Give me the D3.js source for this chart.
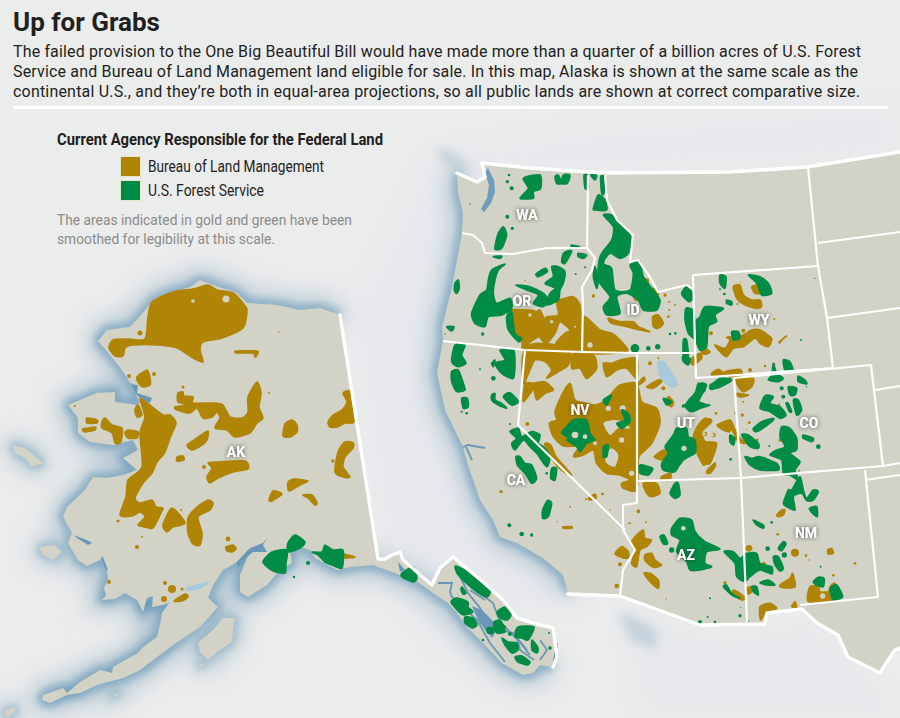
<!DOCTYPE html>
<html>
<head>
<meta charset="utf-8">
<script src="https://cdn.jsdelivr.net/npm/d3@7"></script>
<style>
  body { margin: 0; background: #ebecec; }
  svg { display: block; }
</style>
</head>
<body>
<div id="map"></div>
<script>
const title = "Up for Grabs";
const intro = [
  "The failed provision to the One Big Beautiful Bill would have made more than a quarter of a billion acres of U.S. Forest",
  "Service and Bureau of Land Management land eligible for sale. In this map, Alaska is shown at the same scale as the",
  "continental U.S., and they\u2019re both in equal-area projections, so all public lands are shown at correct comparative size."
];
const legendTitle = "Current Agency Responsible for the Federal Land";
const agencies = ["Bureau of Land Management", "U.S. Forest Service"];
const note = ["The areas indicated in gold and green have been", "smoothed for legibility at this scale."];
const stateNames = ["WA", "OR", "ID", "WY", "NV", "UT", "CO", "CA", "AZ", "NM", "AK"];
const stateSpots = [[527,215],[522,301],[633,310],[759,320],[580,410],[686,423],[809,423],[516,480],[686,555],[806,533],[236,452]];

// outlines in page pixels
const akCoast = [[340,315],[320,308],[300,310],[277,305],[247,303],[237,293],[213,285],[200,280],[190,287],[173,292],[153,300],[143,313],[130,327],[107,330],[98,341],[110,355],[122,370],[130,383],[137,385],[135,393],[140,402],[137,405],[115,402],[115,392],[97,393],[68,405],[78,418],[78,433],[90,442],[113,445],[133,440],[138,450],[123,458],[137,470],[123,475],[107,478],[93,477],[85,490],[67,507],[63,517],[72,533],[68,543],[78,560],[87,566],[100,560],[102,557],[107,570],[108,580],[104,588],[106,595],[102,600],[115,599],[125,593],[137,600],[143,612],[147,598],[153,596],[152,607],[163,605],[170,602],[162,613],[161,620],[157,637],[142,648],[138,653],[113,667],[112,673],[100,670],[80,682],[67,693],[63,688],[43,695],[42,700],[50,703],[67,695],[80,693],[97,685],[123,678],[140,670],[173,645],[200,627],[218,607],[208,598],[213,585],[223,570],[237,562],[248,550],[263,543],[267,538],[257,545],[247,558],[240,575],[240,592],[248,597],[267,585],[278,572],[292,563],[290,550],[300,547],[310,550],[315,558],[337,570],[350,567],[373,565],[400,575],[418,582],[433,593],[448,603],[457,613],[467,627],[483,643],[502,663],[523,675],[533,673],[540,665],[553,667]];
const akBorder = [[553,667],[557,657],[553,628],[540,625],[517,618],[503,600],[483,582],[453,557],[440,568],[432,585],[403,560],[400,552],[392,555],[385,559],[378,559],[340,315]];
const akIslands = [
  [[12,445],[25,448],[43,463],[32,467],[25,458],[15,453]],
  [[39,547],[55,545],[62,552],[53,560],[43,555]],
  [[198,643],[213,630],[223,618],[235,618],[233,630],[232,642],[217,652],[208,660],[200,652]],
  [[3,712],[13,707],[17,710],[7,718]],
  [[113,697],[118,692],[117,696]],[[197,667],[203,663],[204,665]]
];
const pacificCoast = [[568,592],[563,575],[543,558],[517,543],[500,537],[493,520],[480,500],[468,465],[463,447],[445,410],[437,373],[443,340],[442,327],[452,287],[457,260],[462,233],[463,213],[458,193],[457,173]];
const canadaBorder = [[457,173],[477,182],[485,177],[482,163],[530,168],[603,173],[730,172],[807,167],[900,152]];
const mexicoBorder = [[900,648],[895,650],[888,660],[880,673],[848,657],[838,635],[817,623],[802,609],[767,613],[765,624],[700,625],[620,596],[568,594]];
const stateBorders = [
  [[462,233],[473,235],[482,243],[485,253],[513,254],[547,248],[587,248]],
  [[588,175],[587,248],[595,258],[592,270],[582,287],[583,303],[582,352]],
  [[443,341],[525,350],[582,352],[637,353],[695,353]],
  [[605,175],[607,200],[617,220],[633,235],[630,262],[638,260],[650,277],[658,292],[687,285],[693,290]],
  [[693,275],[818,266],[827,318],[833,368],[696,378],[693,275]],
  [[808,167],[818,266]],[[818,243],[900,232]],[[827,318],[900,308]],
  [[734,378],[871,365],[883,466],[741,478],[734,378]],
  [[875,390],[900,386]],[[883,466],[900,463]],[[865,480],[900,475]],
  [[741,478],[747,622]],[[638,481],[741,478]],[[865,470],[878,597],[800,605]],
  [[525,350],[518,425],[625,530]],
  [[637,353],[637,503],[623,505],[623,530],[635,550],[623,570],[620,596]]
];
const waterFill = [
  [[132,385],[138,385],[137,393],[152,398],[150,403],[142,400],[135,393]],
  [[237,562],[250,548],[263,543],[268,537],[263,545],[267,552],[253,552],[243,560],[238,567]],
  [[73,535],[87,540],[92,543],[88,545],[80,540]],
  [[472,606],[482,610],[492,620],[498,628],[492,638],[485,630],[478,620]],
  [[398,562],[405,570],[400,572]]
];
const waterLines = [
  [[457,570],[468,593],[480,608],[490,627],[513,633],[527,650]],
  [[438,583],[452,583],[450,592],[452,597],[477,620],[490,643],[505,662]],
  [[480,593],[493,603],[500,622],[518,640],[530,655]],
  [[470,590],[485,600]],[[515,630],[520,650],[534,660]],[[540,640],[547,650],[540,660]],
  [[557,643],[553,667]],[[107,570],[102,557]],[[463,447],[468,445],[485,448]],[[466,447],[472,460]]
];
const puget = [[488,168],[494,180],[495,192],[491,203],[484,212],[481,209],[487,198],[489,185],[485,172]];
const lakes = [
  [[186,587],[207,582],[210,582],[200,589],[187,591]],
  [[657,362],[665,362],[678,383],[672,388],[660,378]]
];
const canada = [[345,320],[430,150],[600,125],[900,100],[900,160],[480,180],[470,240],[560,600],[440,660],[380,560]];
const mexico = [[620,600],[700,632],[770,630],[805,615],[890,690],[900,718],[640,718]];
const vancouver = [[436,148],[452,152],[470,168],[462,172],[445,165]];
const baja = [[618,612],[640,620],[658,632],[655,650],[630,640]];

// Alaska, page pixels
const blmAlaska = [
  [[152,302],[173,292],[193,289],[208,285],[217,290],[233,293],[242,302],[247,310],[243,328],[222,338],[203,342],[200,350],[203,362],[193,358],[177,348],[157,345],[133,345],[125,348],[123,356],[115,356],[109,348],[113,340],[128,339],[145,339],[148,317]],
  [140,333,2.5],
  [[236,351],[257,351],[257,355],[255,357],[253,353],[237,353]],
  [279,332,.7],
  [[137,377],[147,370],[150,378],[150,385],[143,387],[138,382]],[154,374,2],[129,376,2],
  [[140,399],[147,403],[163,415],[170,415],[176,423],[170,438],[165,452],[157,462],[152,473],[143,483],[135,498],[140,503],[152,500],[156,507],[163,508],[160,515],[153,528],[145,527],[138,525],[145,517],[140,512],[132,516],[120,515],[126,497],[128,480],[142,467],[140,433],[145,417]],
  [[135,410],[138,405],[142,415],[137,417]],
  [[87,418],[97,420],[97,423],[87,423]],[[83,429],[95,427],[95,430],[85,432]],
  [[102,422],[105,418],[112,425],[122,428],[122,437],[120,443],[115,443],[112,433],[102,428]],
  [[125,433],[128,430],[138,432],[137,438],[128,438]],[75,406,1],
  [[178,393],[183,392],[184,396],[193,397],[193,403],[213,403],[223,405],[230,417],[242,418],[248,412],[248,397],[257,382],[261,393],[259,407],[263,418],[257,423],[250,433],[235,437],[227,430],[215,428],[220,418],[217,412],[212,417],[203,418],[197,408],[190,413],[177,410],[175,407],[188,405],[178,402]],
  [183,387,1.5],[269,393,1],
  [[283,436],[285,424],[292,420],[297,425],[297,432],[290,437]],
  [[187,445],[197,438],[208,431],[207,440],[202,445],[192,450]],
  [[177,457],[183,456],[184,460],[177,461]],
  [[208,463],[217,462],[245,461],[248,469],[233,472],[218,478],[210,483],[207,477],[212,468]],[204,467,2],
  [[328,422],[333,415],[342,410],[347,402],[343,393],[350,391],[353,403],[354,422],[345,423],[337,427],[330,427]],
  [[338,452],[345,442],[353,443],[353,448],[345,457],[343,467],[350,477],[343,477],[335,472]],[333,461,1.7],
  [[288,482],[295,479],[308,481],[300,485],[289,491]],
  [[269,500],[273,491],[282,494],[272,501]],
  [[303,495],[312,495],[317,503],[315,505],[308,498]],
  [[163,525],[172,508],[185,523],[173,527],[167,532]],
  [[188,518],[197,507],[208,500],[213,503],[210,510],[198,517],[202,533],[200,545],[193,544],[188,533]],
  [181,510,1],[118,521,1.5],[142,537,1],[137,547,2],[228,539,2.4],
  [[226,547],[233,545],[236,549],[232,552],[227,551]],
  [165,583,2],[172,589,4],[182,589,1.5],[164,599,3],
  [[174,601],[185,594],[188,597],[182,601]],[109,582,2],
  [[343,554],[355,557],[345,558]]
];
const blmAlaskaHoles = [[193,301,1.8],[226,299,3.5]];
const fsAlaska = [
  [[263,562],[272,552],[287,550],[286,563],[285,573],[273,571]],
  [[288,543],[295,535],[305,542],[300,548],[288,552]],
  [[312,552],[322,552],[325,545],[333,550],[343,550],[342,568],[332,565],[325,562],[318,555]],
  [308,563,2],[294,577,1.2],
  [[456,566],[477,577],[490,590],[487,597],[477,592],[465,582],[457,573]],
  [[402,573],[413,567],[417,578],[413,582],[402,577]],
  [[462,587],[466,593],[463,594],[461,590]],
  [[451,602],[457,598],[468,602],[468,607],[473,612],[465,615],[460,613]],
  [[465,617],[473,618],[477,625],[472,628],[465,623]],
  [[497,612],[505,607],[511,615],[507,620],[500,618]],
  [[487,628],[493,628],[493,633],[488,633]],
  [[494,622],[500,620],[503,625],[505,632],[497,633],[494,627]],
  [[502,638],[508,642],[517,643],[518,650],[512,653],[505,645]],
  [[515,657],[522,656],[530,662],[527,665],[518,662]],
  [[518,627],[534,627],[528,640],[522,638],[515,637]],
  [[532,640],[538,648],[537,653],[532,650]],
  [504,627,2],[510,634,2],[483,640,1.3],[550,648,1.8],[549,633,1]
];

const fsNorthwest = [
  [[280,145],[330,135],[332,175],[310,185],[310,205],[270,205],[295,175]],
  [[375,140],[385,135],[395,160],[380,160]],[[400,135],[420,135],[412,160],[395,160]],
  [[462,135],[472,135],[475,175],[465,175]],[[482,135],[500,135],[495,150]],[[512,140],[525,135],[522,190],[515,190]],
  [[205,310],[220,290],[230,315],[215,355],[195,358],[198,335]],
  [237,135,4],[232,155,5],[245,175,6],[232,260,6],[247,295,5],[120,222,2],
  [[490,235],[505,195],[525,210],[530,240],[495,240]],
  [[520,255],[545,255],[575,285],[605,325],[595,370],[570,385],[540,370],[520,400],[545,415],[555,480],[600,480],[610,430],[600,405],[630,395],[640,440],[670,480],[690,510],[680,540],[640,540],[625,510],[590,490],[560,500],[570,550],[530,555],[520,530],[540,500],[505,450],[510,380],[545,330],[550,290]],
  [[495,410],[505,450],[500,475],[490,440]],
  [720,612,4],[736,610,4],[615,655,13],[655,655,7],[683,650,8],
  [[755,490],[770,470],[790,490],[785,510],[770,505]],
  [[400,370],[415,362],[425,365],[405,400],[395,395]],[[445,370],[470,375],[460,385],[445,380]],[[425,345],[450,350],[425,350]],
  [[190,380],[215,378],[210,385]],
  [[185,420],[225,402],[205,420],[195,450],[190,490],[200,520],[240,505],[245,535],[215,555],[175,560],[165,590],[135,580],[125,550],[150,495],[170,480],[175,450]],
  [[258,465],[300,470],[340,490],[355,510],[340,530],[310,520],[325,495],[290,480]],
  [[345,460],[370,440],[365,410],[385,410],[405,425],[400,460],[390,480],[385,510],[350,525],[360,490],[375,475]],
  [[318,432],[345,415],[352,425],[325,440]],[437,432,3],[465,412,3],
  [[75,460],[85,450],[88,475],[80,490],[73,480]],[[50,590],[72,590],[65,603]],[158,612,5],[45,612,2],
  [[230,560],[245,545],[255,610],[275,625],[265,635],[235,600]]
];
const blmNorthwest = [
  [[612,470],[625,455],[628,475],[618,490]],[[610,490],[625,485],[635,510],[615,510]],[[635,475],[665,505],[675,525],[650,510]],
  [[640,445],[655,450],[650,465]],[[670,475],[685,490],[680,500]],
  [[535,565],[570,575],[610,575],[625,590],[660,605],[630,600],[590,590],[545,580]],
  [[668,560],[685,555],[700,580],[685,595],[670,590]],
  [490,498,5],[705,495,5],[718,515,3],[735,525,3],[718,540,3],[715,560,4],[720,610,2],[285,452,2],
  [[380,515],[405,505],[430,500],[450,525],[455,590],[450,660],[380,660],[380,635],[405,610],[420,600],[390,575],[375,610],[350,640],[335,630],[325,620],[280,650],[275,635],[250,600],[245,565],[235,540],[300,540],[320,545],[330,540],[345,570],[350,560],[385,555]],
  [[460,560],[510,600],[545,610],[570,630],[590,665],[460,665]],
  [[280,650],[320,640],[380,645],[380,660],[280,660]]
];
const blmNorthwestHoles = [[480,645,8],[365,575,5],[300,555,5],[435,590,3]];
const fsNorthwestHoles = [[535,395,10]];

const blmBasin = [
  [[285,30],[415,30],[415,75],[385,95],[350,115],[365,90],[345,65],[315,60],[300,90],[280,130]],
  [[285,130],[310,130],[345,125],[370,150],[345,160],[320,180],[310,150],[280,185]],
  [[430,40],[490,45],[500,85],[470,115],[450,85],[425,85]],
  [[520,70],[545,70],[570,60],[620,55],[620,115],[590,85],[560,90],[530,110]],
  [[375,215],[395,165],[420,130],[435,180],[470,190],[495,195],[520,185],[545,160],[570,135],[620,130],[635,185],[680,205],[690,250],[665,310],[630,345],[625,360],[620,450],[580,445],[575,430],[600,420],[570,405],[530,400],[500,370],[490,330],[460,345],[430,350],[445,320],[400,318],[370,290],[358,250],[380,240]],
  [[620,135],[640,112],[645,120],[625,135]],[660,70,6],[685,55,3],
  [[650,140],[685,120],[695,125],[670,145]],[700,145,6],[[715,170],[730,185],[725,200],[710,190]],
  [[790,290],[820,240],[845,240],[815,270],[825,305],[860,310],[840,370],[815,365],[795,325]],[850,285,7],[825,282,7],
  [[673,350],[700,330],[715,340],[700,360]],[[830,395],[855,370],[850,385],[835,400]],[[862,255],[890,250],[900,275],[880,270]],
  [[640,430],[680,430],[690,460],[665,470],[650,460]],[[695,410],[722,400],[720,420],[695,420]],
  [[345,310],[362,315],[378,350],[395,370],[425,405],[400,395],[375,370],[350,330]],[213,455,5],[292,252,6],[468,478,3],
  [[475,475],[495,462],[498,475],[480,480]],[517,462,4],[382,545,2],[[400,560],[425,560],[425,565],[400,565]],[420,500,3],[520,505,3],[595,550,2],[625,513,5]
];
const blmBasinHoles = [
  [[525,345],[545,325],[565,345],[555,380],[530,370]],[535,205,8],[578,205,9],[605,400,8],[575,300,8],[495,310,6],
  [[520,250],[550,240],[580,245],[600,265],[565,265],[540,285]]
];
const fsBasin = [
  [[405,265],[430,240],[470,240],[480,280],[495,300],[470,310],[450,335],[440,320],[410,300],[420,295],[395,280]],
  [[520,180],[545,165],[530,195]],[[575,210],[595,220],[600,245],[575,265],[560,250],[585,240]],[[520,320],[535,315],[530,350],[520,350]],
  [[705,320],[730,285],[740,265],[770,265],[775,290],[795,300],[795,340],[760,355],[735,395],[700,390],[695,370],[715,340]],
  [[770,190],[795,160],[810,130],[830,135],[815,165],[805,190],[840,195],[810,205],[785,215]],[[840,135],[875,120],[900,115],[900,125],[860,145]],
  [[700,175],[725,185],[710,195]],[[630,375],[668,385],[655,405],[630,400]],[[720,460],[735,430],[745,430],[750,465],[735,475]],
  [[75,15],[105,15],[95,45],[108,70],[85,80],[65,65]],[[65,95],[85,90],[100,130],[105,150],[80,155],[65,125]],[[95,175],[112,175],[115,200],[100,205]],[95,215,3],[110,220,4],
  [[210,30],[250,30],[255,60],[250,115],[215,100],[195,70],[225,60]],[[185,70],[195,60],[190,80]],[190,115,7],[150,88,3],
  [[220,170],[240,158],[265,185],[245,195]],[[185,165],[195,160],[195,180],[215,190],[230,205],[205,195],[185,180]],
  [[240,275],[265,265],[275,290],[305,275],[330,285],[325,310],[340,320],[360,350],[350,380],[320,340],[300,320],[280,300],[255,330],[245,310],[260,295]],
  [[258,350],[270,350],[285,370],[305,375],[320,415],[305,430],[285,400],[262,375]],
  [[365,385],[380,385],[375,420],[362,415]],[350,400,4],[240,252,3],
  [[338,510],[352,482],[365,490],[355,530],[338,535]],[238,556,6],[275,582,7],[305,585,5]
];
const fsBasinHoles = [[435,285,10],[465,290,7],[762,325,8]];

const fsRockies = [
  [[5,490],[22,470],[38,495],[30,515],[15,505]],
  [[18,535],[40,540],[45,570],[60,560],[75,530],[130,535],[105,555],[110,575],[85,590],[80,650],[60,660],[45,630],[25,610],[15,570]],
  [[120,435],[138,440],[135,475],[120,460]],[120,478,3],[133,492,4],[[140,510],[155,515],[155,525],[140,520]],
  [[10,630],[20,630],[25,680],[10,680]],[[8,680],[30,685],[25,705],[10,695]],
  [[205,435],[240,440],[265,460],[275,490],[245,495],[230,460]],[[155,605],[175,605],[180,625],[160,630]],
  [[310,690],[330,695],[340,725],[315,720]],[[280,700],[290,730],[310,745],[295,755],[265,750],[275,735]],[[355,738],[375,750],[380,762],[355,755]],
  [305,775,6],[[325,770],[350,775],[345,795],[330,795]],[310,800,6],
  [[255,797],[280,800],[270,820],[300,830],[318,855],[300,865],[270,845],[240,835]],[[340,810],[355,810],[365,840],[350,855]],[[318,820],[325,820],[335,845],[328,845]],
  [[220,895],[245,875],[280,865],[275,875],[240,900],[225,905]],
  [[305,890],[330,895],[350,925],[350,960],[330,970],[360,995],[345,1020],[355,1050],[330,1035],[310,1030],[305,990],[270,975],[290,960],[315,950],[300,920]],
  [[195,980],[215,985],[240,980],[290,1000],[295,1020],[240,1020],[210,1005]],
  [[185,915],[205,915],[235,940],[235,955],[210,950]],[[150,915],[165,925],[160,945],[150,935]],[[370,915],[400,925],[395,935],[370,925]],
  [415,950,7],[268,948,3],[152,988,4],[363,630,3],[405,445,2],[380,770,2],
  [[10,830],[45,790],[55,760],[75,780],[60,795],[45,810],[80,825],[60,825],[40,830],[30,845],[10,825]],[[90,770],[120,745],[155,750],[130,765],[95,778]],[[0,930],[35,925],[45,965],[10,990],[0,1000]]
];
const blmRockies = [
  [[160,470],[180,465],[190,495],[215,510],[240,510],[245,530],[230,535],[195,525],[170,505]],[[215,470],[240,465],[245,490],[225,490]],[182,457,2],[172,522,3],[93,610,6],
  [[105,645],[135,655],[150,630],[140,622],[165,620],[190,615],[215,600],[240,600],[275,625],[265,650],[240,640],[225,625],[190,650],[160,655],[140,680],[120,665]],
  [190,602,6],[283,567,3],[[298,635],[320,618],[310,625],[300,638]],
  [[50,640],[55,640],[90,665],[70,672]],[[30,690],[60,670],[65,685],[40,705]],[[95,730],[115,718],[135,735],[100,738]],[[135,725],[180,718],[185,735],[150,740]],[210,720,6],[255,708,4],[282,703,4],
  [[170,745],[220,745],[215,770],[190,785],[175,770]],[[172,790],[205,795],[190,800],[175,800]],[190,815,3],[108,850,4],[165,850,3],[187,855,5],[208,878,4],[200,898,2],[232,930,4],
  [[55,885],[75,865],[95,875],[65,905],[60,935],[105,940],[85,990],[70,1005],[50,960],[40,920]],[[82,1020],[105,1000],[105,1010],[90,1030]],
  [[112,885],[150,870],[165,900],[180,925],[200,940],[175,935],[155,900],[125,895]],
  [297,825,4],[300,930,5],[388,925,5],[358,1022,3]
];
const blmRockiesHoles = [[72,912,5],[97,915,5]];

const fsSouthwest = [
  [[215,175],[240,145],[275,150],[285,185],[315,215],[360,237],[320,245],[315,280],[335,290],[300,300],[270,300],[260,275],[230,245],[240,210],[215,195]],
  [[180,200],[192,195],[203,220],[190,222]],[215,240,8],
  [[372,245],[400,245],[420,265],[440,250],[470,250],[480,280],[515,290],[515,312],[480,300],[450,320],[435,335],[410,320],[405,280]],
  [[460,150],[490,165],[490,175],[470,165]],[515,157,4],[[520,260],[535,260],[550,295],[540,303],[525,285]],[[535,235],[550,215],[558,222],[545,242]],[553,255,8],[503,236,7],
  [[565,60],[575,60],[600,20],[610,60],[620,85],[640,60],[655,65],[640,90],[620,92],[605,70],[580,80],[585,120],[560,110],[550,100]],[[628,115],[650,110],[652,140],[638,130]],
  [[480,338],[505,330],[525,345],[500,345]],[[370,350],[380,345],[395,370],[420,385],[395,375]],[[455,350],[470,350],[475,375],[460,365]],
  [330,385,3],[420,437,5],[323,441,3],[300,456,6],[345,456,4],[422,412,2],[445,452,2],[662,290,3],
  [[640,335],[655,322],[672,325],[670,350],[650,345]],[[690,355],[710,345],[728,380],[700,390]]
];
const blmSouthwest = [
  [[530,135],[545,120],[555,120],[550,135],[535,140]],[447,235,10],[492,282,6],[585,248,12],[533,193,4],[553,218,3],[618,257,4],[627,270,2],[[683,240],[695,235],[700,250],[685,252]],
  [[540,345],[570,325],[578,310],[585,350],[545,352]],
  [[630,350],[655,350],[660,365],[685,365],[690,350],[705,340],[712,385],[700,392],[625,395]],
  [[400,360],[420,370],[435,385],[425,390],[400,375]],[[440,355],[455,350],[455,365],[445,372]],[[480,410],[510,400],[530,415],[498,425],[482,450]],[[575,410],[585,395],[590,412]],
  [700,316,4],[765,280,4],[375,338,5],
  [[115,190],[130,180],[135,205],[155,210],[140,230],[120,240],[110,290],[95,280],[105,240],[95,215]],
  [[135,255],[155,250],[165,270],[185,285],[160,292],[135,272]],[[45,250],[65,230],[85,245],[85,265],[60,260]],[60,283,6],
  [[132,310],[150,310],[175,330],[175,355],[150,335]],[50,348,7],[115,125,5],[90,160,3],[138,157,3],[8,73,3],[8,113,3],[30,120,2],[198,387,2]
];
const blmSouthwestHoles = [[668,378,8]];
const fsSouthwestHoles = [[250,175,7]];

const width = 900, height = 718;
const landColor = "#d2d2c6", gold = "#b08505", green = "#008c44", waterColor = "#6a97b7";

const svg = d3.select("#map").append("svg").attr("width", width).attr("height", height);
const defs = svg.append("defs");
const blur = (id, dev) => defs.append("filter").attr("id", id)
  .attr("filterUnits", "userSpaceOnUse").attr("x", -50).attr("y", -50).attr("width", width + 100).attr("height", height + 100)
  .append("feGaussianBlur").attr("stdDeviation", dev);
blur("glowNear", 5);
blur("glowFar", 13);
const halo = defs.append("filter").attr("id", "halo").attr("x", "-40%").attr("y", "-40%").attr("width", "180%").attr("height", "180%");
halo.append("feDropShadow").attr("dx", 0).attr("dy", 0).attr("stdDeviation", 2).attr("flood-color", "#333").attr("flood-opacity", .9);

const frame = (ox, oy, zoom) => ({
  x: d3.scaleLinear().domain([0, 900]).range([ox, ox + 900 / zoom]),
  y: d3.scaleLinear().domain([0, 900]).range([oy, oy + 900 / zoom]),
  r: d3.scaleLinear().domain([0, zoom]).range([0, 1])
});
const page = frame(0, 0, 1);
const nw = frame(430, 130, 3), basin = frame(430, 340, 3), rockies = frame(680, 130, 3), sw = frame(600, 470, 3);

const lineFor = (f, curve) => d3.line().x(d => f.x(d[0])).y(d => f.y(d[1])).curve(curve);
const blobCurve = d3.curveCardinalClosed.tension(.3);

// draw polygons and round spots from one list, the round stroke softens the corners
const drawShapes = (list, f, color, grow = 1.6) => {
  const g = svg.append("g").attr("fill", color);
  g.selectAll("path").data(list.filter(d => Array.isArray(d[0]))).enter().append("path")
    .attr("d", lineFor(f, blobCurve)).attr("stroke", color).attr("stroke-width", grow).attr("stroke-linejoin", "round");
  g.selectAll("circle").data(list.filter(d => !Array.isArray(d[0]))).enter().append("circle")
    .attr("cx", d => f.x(d[0])).attr("cy", d => f.y(d[1])).attr("r", d => f.r(d[2]));
};

const straight = lineFor(page, d3.curveLinear);
const closed = lineFor(page, d3.curveLinearClosed);

// neighbours
svg.append("path").attr("d", closed(canada)).attr("fill", "#e7e9ec").attr("filter", "url(#glowFar)");
svg.append("path").attr("d", closed(mexico)).attr("fill", "#e7e8eb").attr("filter", "url(#glowFar)");
[vancouver, baja].forEach(shape => {
  svg.append("path").attr("d", closed(shape)).attr("fill", "#c4d2db").attr("filter", "url(#glowNear)");
});

// coast glow
[akCoast, pacificCoast].forEach(coast => {
  svg.append("path").attr("d", straight(coast)).attr("fill", "none").attr("stroke", "#a8bfce").attr("stroke-width", 18).attr("filter", "url(#glowFar)");
  svg.append("path").attr("d", straight(coast)).attr("fill", "none").attr("stroke", "#5f93b4").attr("stroke-width", 6).attr("filter", "url(#glowNear)");
});
akIslands.forEach(island => {
  svg.append("path").attr("d", closed(island)).attr("fill", "#a8bfce").attr("stroke", "#a8bfce").attr("stroke-width", 10).attr("filter", "url(#glowFar)");
  svg.append("path").attr("d", closed(island)).attr("fill", "none").attr("stroke", "#5f93b4").attr("stroke-width", 3).attr("filter", "url(#glowNear)");
});

// land
svg.append("path").attr("d", closed(akCoast.concat(akBorder))).attr("fill", landColor);
svg.append("path").attr("d", closed(pacificCoast.concat(canadaBorder, mexicoBorder))).attr("fill", landColor);
svg.selectAll(".island").data(akIslands).enter().append("path").attr("class", "island").attr("d", closed).attr("fill", landColor);

// water
svg.selectAll(".inlet").data(waterFill).enter().append("path").attr("class", "inlet").attr("d", closed).attr("fill", waterColor);
svg.selectAll(".channel").data(waterLines).enter().append("path").attr("class", "channel").attr("d", straight)
  .attr("fill", "none").attr("stroke", waterColor).attr("stroke-width", 1.8);
svg.append("path").attr("d", closed(puget)).attr("fill", "#6f9cbc");
svg.selectAll(".lake").data(lakes).enter().append("path").attr("class", "lake").attr("d", lineFor(page, blobCurve)).attr("fill", "#a9c9dc");

// Bureau of Land Management
drawShapes(blmAlaska, page, gold);
drawShapes(blmNorthwest, nw, gold);
drawShapes(blmBasin, basin, gold);
drawShapes(blmRockies, rockies, gold);
drawShapes(blmSouthwest, sw, gold);
drawShapes(blmAlaskaHoles, page, landColor, 0);
drawShapes(blmNorthwestHoles, nw, landColor, 0);
drawShapes(blmBasinHoles, basin, landColor, 0);
drawShapes(blmRockiesHoles, rockies, landColor, 0);
drawShapes(blmSouthwestHoles, sw, landColor, 0);

// Forest Service
drawShapes(fsAlaska, page, green);
drawShapes(fsNorthwest, nw, green);
drawShapes(fsBasin, basin, green);
drawShapes(fsRockies, rockies, green);
drawShapes(fsSouthwest, sw, green);
drawShapes(fsNorthwestHoles, nw, landColor, 0);
drawShapes(fsBasinHoles, basin, landColor, 0);
drawShapes(fsSouthwestHoles, sw, landColor, 0);

// borders
svg.selectAll(".state").data(stateBorders).enter().append("path").attr("class", "state").attr("d", straight)
  .attr("fill", "none").attr("stroke", "#fff").attr("stroke-width", 2.2).attr("stroke-linejoin", "round");
[akBorder, canadaBorder, mexicoBorder].forEach(b => {
  svg.append("path").attr("d", straight(b)).attr("fill", "none").attr("stroke", "#fff")
    .attr("stroke-width", 3.4).attr("stroke-linejoin", "round").attr("stroke-linecap", "round");
});

// state labels
svg.selectAll(".stateName").data(stateNames).enter().append("text").attr("class", "stateName")
  .attr("x", (d, i) => page.x(stateSpots[i][0])).attr("y", (d, i) => page.y(stateSpots[i][1]) + 5)
  .attr("text-anchor", "middle").attr("font-family", "Roboto, sans-serif").attr("font-weight", 700)
  .attr("font-size", 14).attr("fill", "#fff").attr("filter", "url(#halo)").text(d => d);

// header
svg.append("text").attr("x", 13).attr("y", 31).attr("font-family", "Roboto, sans-serif").attr("font-weight", 700)
  .attr("font-size", 26).attr("fill", "#231f20").text(title);
const introWidths = [848, 845, 847];
svg.selectAll(".intro").data(intro).enter().append("text").attr("class", "intro")
  .attr("x", 13).attr("y", (d, i) => 57 + i * 20.2).attr("font-family", "Roboto, sans-serif")
  .attr("font-size", 16).attr("fill", "#231f20")
  .attr("textLength", (d, i) => introWidths[i]).attr("lengthAdjust", "spacing").text(d => d);
svg.append("line").attr("x1", 13).attr("x2", 888).attr("y1", 107.5).attr("y2", 107.5).attr("stroke", "#fff").attr("stroke-width", 3);

// legend
svg.append("text").attr("x", 57).attr("y", 145).attr("font-family", "Roboto, sans-serif").attr("font-weight", 700)
  .attr("font-size", 16).attr("fill", "#231f20").attr("textLength", 326).attr("lengthAdjust", "spacingAndGlyphs").text(legendTitle);
const legendY = d3.scaleBand().domain(agencies).range([156, 204]);
svg.selectAll(".swatch").data(agencies).enter().append("rect").attr("class", "swatch")
  .attr("x", 120.5).attr("y", d => legendY(d) + .5).attr("width", 20).attr("height", 20)
  .attr("fill", (d, i) => i ? green : gold).attr("stroke", "#e8e4c8").attr("stroke-width", 1);
svg.selectAll(".agency").data(agencies).enter().append("text").attr("class", "agency")
  .attr("x", 148).attr("y", d => legendY(d) + 16).attr("font-family", "Roboto, sans-serif")
  .attr("font-size", 16).attr("fill", "#231f20").attr("textLength", (d, i) => i ? 116 : 176).attr("lengthAdjust", "spacingAndGlyphs").text(d => d);
svg.selectAll(".note").data(note).enter().append("text").attr("class", "note")
  .attr("x", 57).attr("y", (d, i) => 225 + i * 19).attr("font-family", "Roboto, sans-serif")
  .attr("font-size", 15).attr("fill", "#8b8b8b").attr("textLength", (d, i) => i ? 218 : 295).attr("lengthAdjust", "spacingAndGlyphs").text(d => d);
</script>
</body>
</html>
